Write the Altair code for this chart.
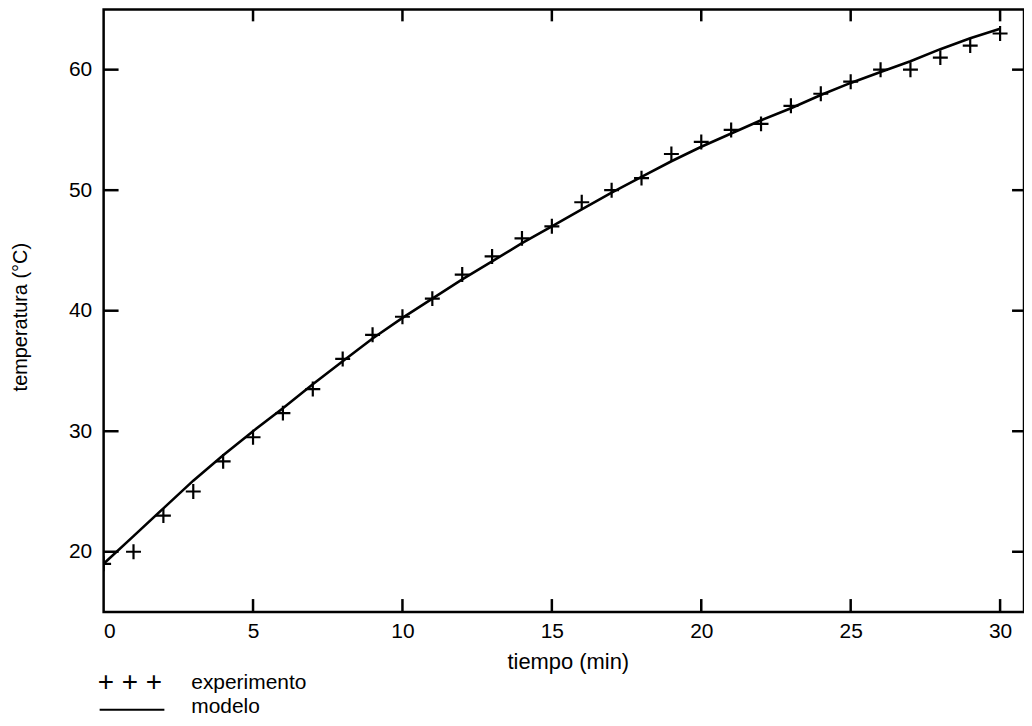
import altair as alt
import pandas as pd

# ---- data ----
tiempo = [0, 1, 2, 3, 4, 5, 6, 7, 8, 9, 10, 11, 12, 13, 14, 15,
          16, 17, 18, 19, 20, 21, 22, 23, 24, 25, 26, 27, 28, 29, 30]
experimento = [19.0, 20.0, 23.0, 25.0, 27.5, 29.5, 31.5, 33.5, 36.0, 38.0, 39.5,
               41.0, 43.0, 44.5, 46.0, 47.0, 49.0, 50.0, 51.0, 53.0, 54.0,
               55.0, 55.5, 57.0, 58.0, 59.0, 60.0, 60.0, 61.0, 62.0, 63.0]
modelo = [19.0, 21.3, 23.6, 25.9, 28.0, 30.0, 31.9, 33.9, 35.8, 37.7, 39.4,
          41.0, 42.6, 44.1, 45.6, 47.0, 48.4, 49.8, 51.1, 52.4, 53.6,
          54.7, 55.8, 56.8, 57.9, 58.9, 59.8, 60.7, 61.7, 62.6, 63.4]
x_ticks = [0, 5, 10, 15, 20, 25, 30]
y_ticks = [20, 30, 40, 50, 60]
legend_labels = ["experimento", "modelo"]
legend_symbol = "+ + +"

x_title = "tiempo (min)"
y_title = "temperatura (°C)"

W, H = 924, 605
FONT = "Liberation Sans"

df = pd.DataFrame({"tiempo": tiempo, "experimento": experimento, "modelo": modelo})
xt = pd.DataFrame({"t": [v for v in x_ticks if v > 0]})
yt = pd.DataFrame({"t": y_ticks})
leg = pd.DataFrame({"label": legend_labels})

xscale = alt.Scale(domain=[0, 30.8], nice=False, zero=False)
yscale = alt.Scale(domain=[15, 65], nice=False, zero=False)

xaxis = alt.Axis(values=x_ticks, ticks=False, domain=False, grid=False,
                 labelFontSize=21, labelPadding=9, labelColor="black",
                 labelFont=FONT, title=x_title, titleFont=FONT,
                 titleFontSize=22, titleFontWeight="normal",
                 titleColor="black", titleX=W / 2 + 4, titleY=50,
                 titleBaseline="middle", titleAlign="center")
yaxis = alt.Axis(values=y_ticks, ticks=False, domain=False, grid=False,
                 labelFontSize=21, labelPadding=12, labelColor="black",
                 labelFont=FONT, title=y_title, titleFont=FONT,
                 titleFontSize=20, titleFontWeight="normal",
                 titleColor="black", titleX=-83, titleY=H / 2 + 6,
                 titleAngle=270, titleBaseline="middle",
                 titleAlign="center")

plus_path = "M-1,0L1,0M0,-1L0,1"

points = alt.Chart(df).mark_point(
    shape=plus_path, filled=False, color="black", strokeWidth=2.2,
    size=225, opacity=1, clip=True
).encode(
    x=alt.X("tiempo:Q", scale=xscale, axis=xaxis),
    y=alt.Y("experimento:Q", scale=yscale, axis=yaxis),
)

line = alt.Chart(df).mark_line(color="black", strokeWidth=2.6).encode(
    x=alt.X("tiempo:Q", scale=xscale, axis=xaxis),
    y=alt.Y("modelo:Q", scale=yscale, axis=yaxis),
)

rule_style = dict(color="black", strokeWidth=2.5)
bottom_ticks = alt.Chart(xt).mark_rule(**rule_style).encode(
    x=alt.X("t:Q", scale=xscale, axis=xaxis), y=alt.value(H), y2=alt.value(H - 13))
top_ticks = alt.Chart(xt).mark_rule(**rule_style).encode(
    x=alt.X("t:Q", scale=xscale, axis=xaxis), y=alt.value(0), y2=alt.value(12))
left_ticks = alt.Chart(yt).mark_rule(**rule_style).encode(
    y=alt.Y("t:Q", scale=yscale, axis=yaxis), x=alt.value(0), x2=alt.value(15))
right_ticks = alt.Chart(yt).mark_rule(**rule_style).encode(
    y=alt.Y("t:Q", scale=yscale, axis=yaxis), x=alt.value(W), x2=alt.value(W - 12))

# ---- custom legend below the plot ----
leg_sym = alt.Chart(leg).transform_filter(alt.datum.label == legend_labels[0]).mark_text(
    align="left", baseline="middle", font=FONT, fontSize=28, color="black"
).encode(text=alt.value(legend_symbol), x=alt.value(-6), y=alt.value(676))

leg_text1 = alt.Chart(leg).transform_filter(alt.datum.label == legend_labels[0]).mark_text(
    align="left", baseline="alphabetic", font=FONT, fontSize=21, color="black"
).encode(text="label:N", x=alt.value(88), y=alt.value(682))

leg_text2 = alt.Chart(leg).transform_filter(alt.datum.label == legend_labels[1]).mark_text(
    align="left", baseline="alphabetic", font=FONT, fontSize=21, color="black"
).encode(text="label:N", x=alt.value(88), y=alt.value(706))

leg_line = alt.Chart(leg).transform_filter(alt.datum.label == legend_labels[1]).mark_rule(
    color="black", strokeWidth=2
).encode(x=alt.value(-4), x2=alt.value(61), y=alt.value(703))

chart = alt.layer(
    line, points, bottom_ticks, top_ticks, left_ticks, right_ticks,
    leg_sym, leg_text1, leg_text2, leg_line
).properties(
    width=W, height=H,
    padding={"left": 96, "top": 0, "right": 0, "bottom": 105},
    autosize=alt.AutoSizeParams(type="none"),
    background="white",
).configure_view(stroke="black", strokeWidth=2.5)

chart.save("out.html", embed_options={"renderer": "svg", "actions": False})
